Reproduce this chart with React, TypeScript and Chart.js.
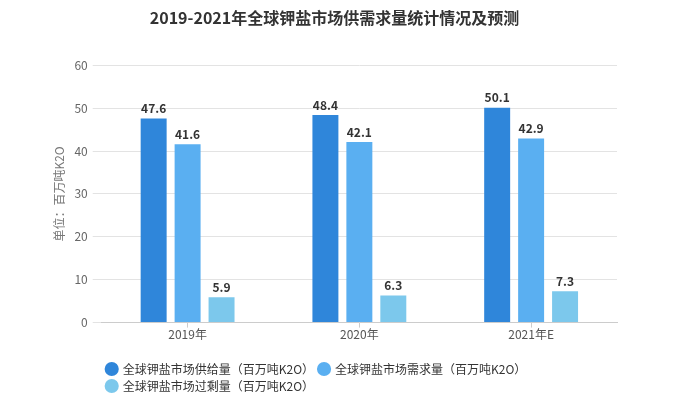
import React, { useEffect, useRef } from "react";
import { Chart, registerables } from "chart.js";

Chart.register(...registerables);

const categories = ["2019年", "2020年", "2021年E"];
const supplyValues = [47.6, 48.4, 50.1];
const demandValues = [41.6, 42.1, 42.9];
const surplusValues = [5.9, 6.3, 7.3];
const seriesNames = [
  "全球钾盐市场供给量（百万吨K2O）",
  "全球钾盐市场需求量（百万吨K2O）",
  "全球钾盐市场过剩量（百万吨K2O）",
];
const seriesColors = ["#2f86da", "#5aaff1", "#7cc8ec"];
const titleText = "2019-2021年全球钾盐市场供需求量统计情况及预测";
const yAxisTitle = "单位：百万吨K2O";

const FONT = "'Noto Sans CJK SC', 'Noto Sans', sans-serif";

const valueLabelPlugin = {
  id: "valueLabels",
  afterDatasetsDraw(chart: any) {
    const ctx = chart.ctx;
    ctx.save();
    ctx.font = `bold 12px ${FONT}`;
    ctx.fillStyle = "#333333";
    ctx.textAlign = "center";
    ctx.textBaseline = "bottom";
    chart.data.datasets.forEach((ds: any, i: number) => {
      const meta = chart.getDatasetMeta(i);
      meta.data.forEach((el: any, j: number) => {
        ctx.fillText(String(ds.data[j].toFixed(1)), el.x, el.y - 4);
      });
    });
    ctx.restore();
  },
};

export default function App() {
  const ref = useRef<HTMLCanvasElement>(null);
  useEffect(() => {
    if (!ref.current) return;
    const values = [supplyValues, demandValues, surplusValues];
    const chart = new Chart(ref.current, {
      type: "bar",
      data: {
        labels: categories,
        datasets: values.map((v, i) => ({
          label: seriesNames[i],
          data: v,
          backgroundColor: seriesColors[i],
          borderWidth: 0,
          categoryPercentage: 0.593,
          barPercentage: 0.765,
        })),
      },
      options: {
        animation: false,
        responsive: false,
        maintainAspectRatio: false,
        layout: { padding: { left: 52, right: 64, top: 0, bottom: -4 } },
        plugins: {
          title: {
            display: true,
            text: titleText,
            color: "#333333",
            font: { family: FONT, size: 16, weight: "bold" },
            padding: { top: 8, bottom: 38 },
          },
          legend: {
            position: "bottom",
            align: "start",
            fullSize: false,
            labels: {
              usePointStyle: true,
              pointStyle: "circle",
              boxWidth: 10,
              boxHeight: 10,
              padding: 5,
              color: "#333333",
              font: { family: FONT, size: 12 },
            },
          },
          tooltip: { enabled: false },
        },
        scales: {
          x: {
            grid: {
              display: true,
              drawOnChartArea: false,
              drawTicks: true,
              tickLength: 5,
              offset: false,
              color: "#cccccc",
            },
            border: { color: "#cccccc" },
            ticks: {
              color: "#555555",
              font: { family: FONT, size: 12 },
              padding: 0,
            },
            afterFit: (scale: any) => {
              scale.height += 16;
            },
          },
          y: {
            min: 0,
            max: 60,
            ticks: {
              stepSize: 10,
              color: "#666666",
              font: { family: FONT, size: 12 },
              padding: 5,
            },
            grid: { color: "#e3e3e3", tickLength: 9, drawTicks: true },
            border: { display: false },
            title: {
              display: true,
              text: yAxisTitle,
              color: "#777777",
              font: { family: FONT, size: 12 },
              padding: { top: 0, bottom: 3 },
            },
          },
        },
      },
      plugins: [valueLabelPlugin],
    });
    return () => chart.destroy();
  }, []);
  return (
    <div style={{ position: "fixed", left: 0, top: 0, width: 681, height: 398, background: "#fff" }}>
      <canvas ref={ref} width={681} height={398} />
    </div>
  );
}
